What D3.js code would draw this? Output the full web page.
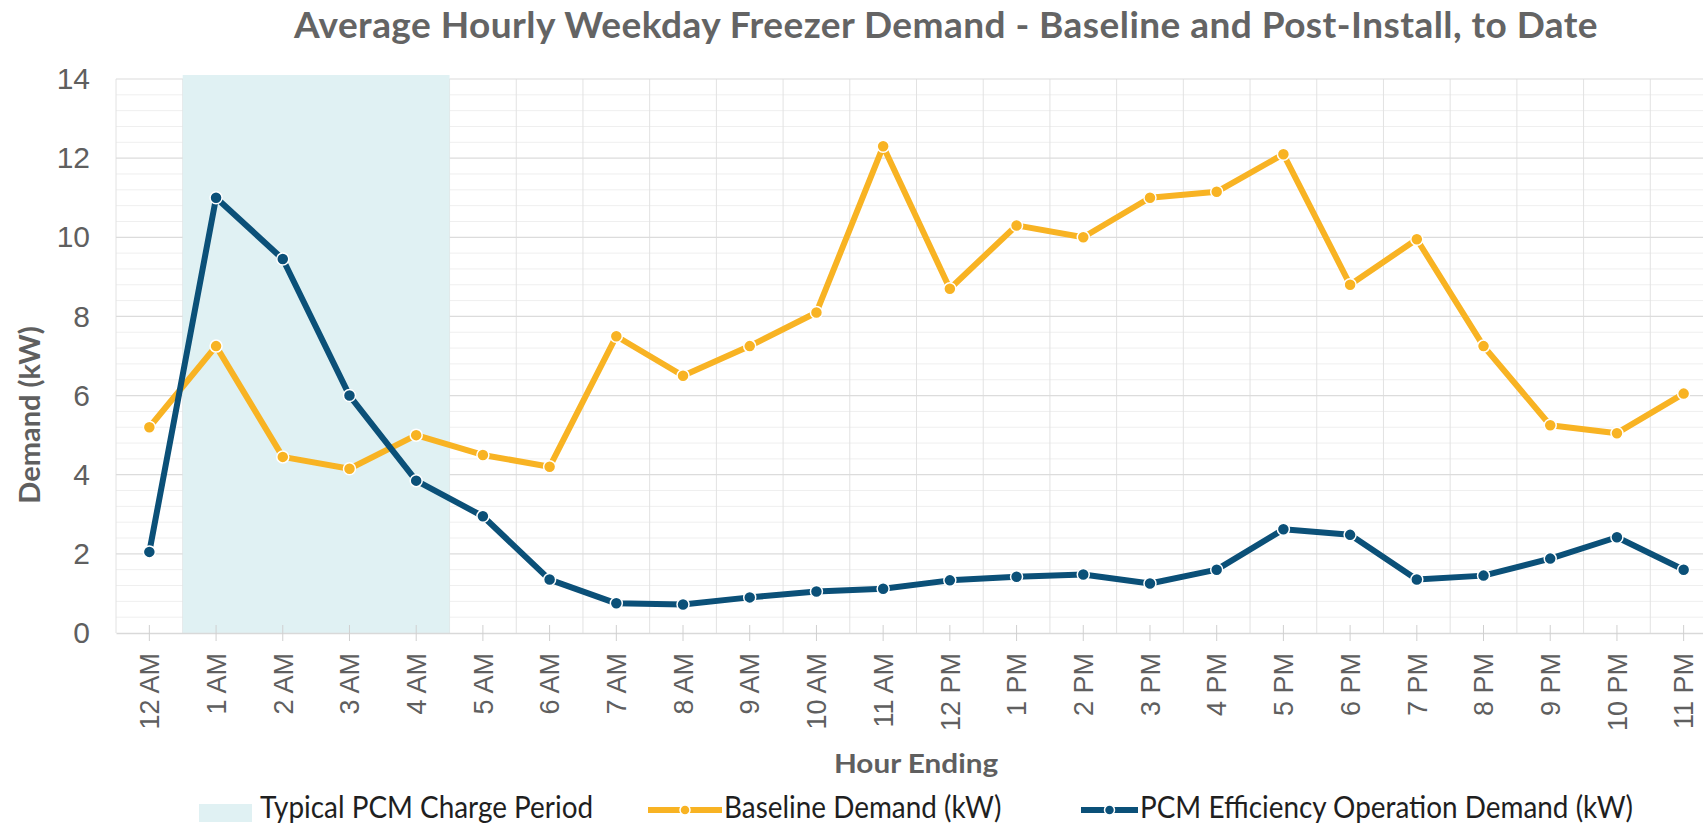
<!DOCTYPE html>
<html>
<head>
<meta charset="utf-8">
<script src="https://cdn.jsdelivr.net/npm/d3@7"></script>
<style>
  body { margin: 0; background: #fff; }
  svg { display: block; font-family: Lato, "Open Sans", sans-serif; }
</style>
</head>
<body>
<svg id="chart"></svg>
<script>
const hours = ["12 AM", "1 AM", "2 AM", "3 AM", "4 AM", "5 AM", "6 AM", "7 AM", "8 AM", "9 AM", "10 AM", "11 AM",
  "12 PM", "1 PM", "2 PM", "3 PM", "4 PM", "5 PM", "6 PM", "7 PM", "8 PM", "9 PM", "10 PM", "11 PM"];
const baseline = [5.2, 7.25, 4.45, 4.15, 5.0, 4.5, 4.2, 7.5, 6.5, 7.25, 8.1, 12.3,
  8.7, 10.3, 10.0, 11.0, 11.15, 12.1, 8.8, 9.95, 7.25, 5.25, 5.05, 6.05];
const pcm = [2.05, 11.0, 9.45, 6.0, 3.85, 2.95, 1.35, 0.75, 0.72, 0.9, 1.05, 1.12,
  1.33, 1.42, 1.48, 1.25, 1.6, 2.62, 2.48, 1.35, 1.45, 1.88, 2.42, 1.6];
const chargeHours = ["1 AM", "2 AM", "3 AM", "4 AM"];
const yTicks = [0, 2, 4, 6, 8, 10, 12, 14];

const W = 1703, H = 827;
const margin = {top: 79, right: -14, bottom: 194, left: 116};
const width = W - margin.left - margin.right;
const height = H - margin.top - margin.bottom;

const orange = "#F8B323", navy = "#0B5078", shade = "#E0F1F3", grey = "#5f5f5f";

const svg = d3.select("#chart").attr("width", W).attr("height", H);

const x = d3.scaleBand().domain(hours).range([0, width]).padding(0);
const y = d3.scaleLinear().domain([0, 14]).range([height, 0]);
const cx = d => x(d) + x.bandwidth() / 2;

const g = svg.append("g").attr("transform", `translate(${margin.left},${margin.top})`);

// minor gridlines, every 0.4
g.append("g").selectAll("line")
  .data(d3.range(0, 35).map(i => i * 0.4).filter(v => !yTicks.includes(+v.toFixed(1))))
  .join("line")
    .attr("x1", 0).attr("x2", width)
    .attr("y1", d => y(d)).attr("y2", d => y(d))
    .attr("stroke", "#efefef").attr("stroke-width", 1);

// vertical gridlines between categories
g.append("g").selectAll("line")
  .data(hours)
  .join("line")
    .attr("x1", d => x(d)).attr("x2", d => x(d))
    .attr("y1", 0).attr("y2", height)
    .attr("stroke", "#e2e2e2").attr("stroke-width", 1);

// major gridlines
g.append("g").selectAll("line")
  .data(yTicks.slice(1))
  .join("line")
    .attr("x1", 0).attr("x2", width)
    .attr("y1", d => y(d)).attr("y2", d => y(d))
    .attr("stroke", "#dcdcdc").attr("stroke-width", 1.2);

// charge period band
g.append("rect")
  .attr("x", x(chargeHours[0]))
  .attr("width", x(chargeHours[chargeHours.length - 1]) + x.bandwidth() - x(chargeHours[0]))
  .attr("y", y(14) - 4)
  .attr("height", y(0) - y(14) + 4)
  .attr("fill", shade);

// x axis
const xAxis = g.append("g").attr("transform", `translate(0,${height})`)
  .call(d3.axisBottom(x).tickSizeInner(8).tickSizeOuter(0));
xAxis.select(".domain").attr("stroke", "#d9d9d9").attr("stroke-width", 1.5);
xAxis.selectAll(".tick line").attr("stroke", "#d0d0d0").attr("y1", -8);
xAxis.selectAll(".tick text")
  .attr("fill", grey).attr("font-size", 27)
  .attr("transform", "rotate(-90)")
  .attr("text-anchor", "end")
  .attr("x", -20).attr("y", 0).attr("dy", "0.36em");

// y axis labels
const yAxis = g.append("g")
  .call(d3.axisLeft(y).tickValues(yTicks).tickSize(0).tickPadding(26));
yAxis.select(".domain").remove();
yAxis.selectAll(".tick text").attr("fill", grey).attr("font-size", 30);

// series lines with markers
const line = d3.line().x((d, i) => cx(hours[i])).y(d => y(d));
[[baseline, orange], [pcm, navy]].forEach(([vals, col]) => {
  g.append("path").datum(vals)
    .attr("d", line).attr("fill", "none")
    .attr("stroke", col).attr("stroke-width", 6)
    .attr("stroke-linejoin", "round");
  g.append("g").selectAll("circle")
    .data(vals)
    .join("circle")
      .attr("cx", (d, i) => cx(hours[i])).attr("cy", d => y(d))
      .attr("r", 6).attr("fill", col)
      .attr("stroke", "#fff").attr("stroke-width", 1.5);
});

// titles
svg.append("text")
  .attr("x", 946).attr("y", 38)
  .attr("text-anchor", "middle")
  .attr("font-size", 37).attr("font-weight", "bold").attr("fill", "#646464")
  .attr("letter-spacing", 0.45)
  .text("Average Hourly Weekday Freezer Demand - Baseline and Post-Install, to Date");

svg.append("text")
  .attr("transform", "translate(30,415) rotate(-90)")
  .attr("text-anchor", "middle").attr("dy", "0.35em")
  .attr("font-size", 29).attr("font-weight", "bold").attr("fill", grey)
  .text("Demand (kW)");

svg.append("text")
  .attr("transform", "translate(916,773) scale(1.1,1)")
  .attr("text-anchor", "middle")
  .attr("font-size", 27).attr("font-weight", "bold").attr("fill", grey)
  .text("Hour Ending");

// legend
const legend = svg.append("g").attr("transform", "translate(0,810)");
const legendText = (tx, label) => legend.append("text")
  .attr("transform", `translate(${tx},8) scale(0.93,1)`)
  .attr("font-size", 30).attr("fill", "#1f1f1f")
  .text(label);

legend.append("rect").attr("x", 199).attr("y", -6).attr("width", 53).attr("height", 18).attr("fill", shade);
legendText(260, "Typical PCM Charge Period");

[[648, 724, orange, "Baseline Demand (kW)"], [1081, 1140, navy, "PCM Efficiency Operation Demand (kW)"]]
  .forEach(([x0, tx, col, label]) => {
    legend.append("line").attr("x1", x0).attr("x2", tx - 2).attr("y1", 0).attr("y2", 0)
      .attr("stroke", col).attr("stroke-width", 6);
    legend.append("circle").attr("cx", (x0 + tx - 2) / 2).attr("cy", 0).attr("r", 5)
      .attr("fill", col).attr("stroke", "#fff").attr("stroke-width", 1.5);
    legendText(tx, label);
  });
</script>
</body>
</html>
